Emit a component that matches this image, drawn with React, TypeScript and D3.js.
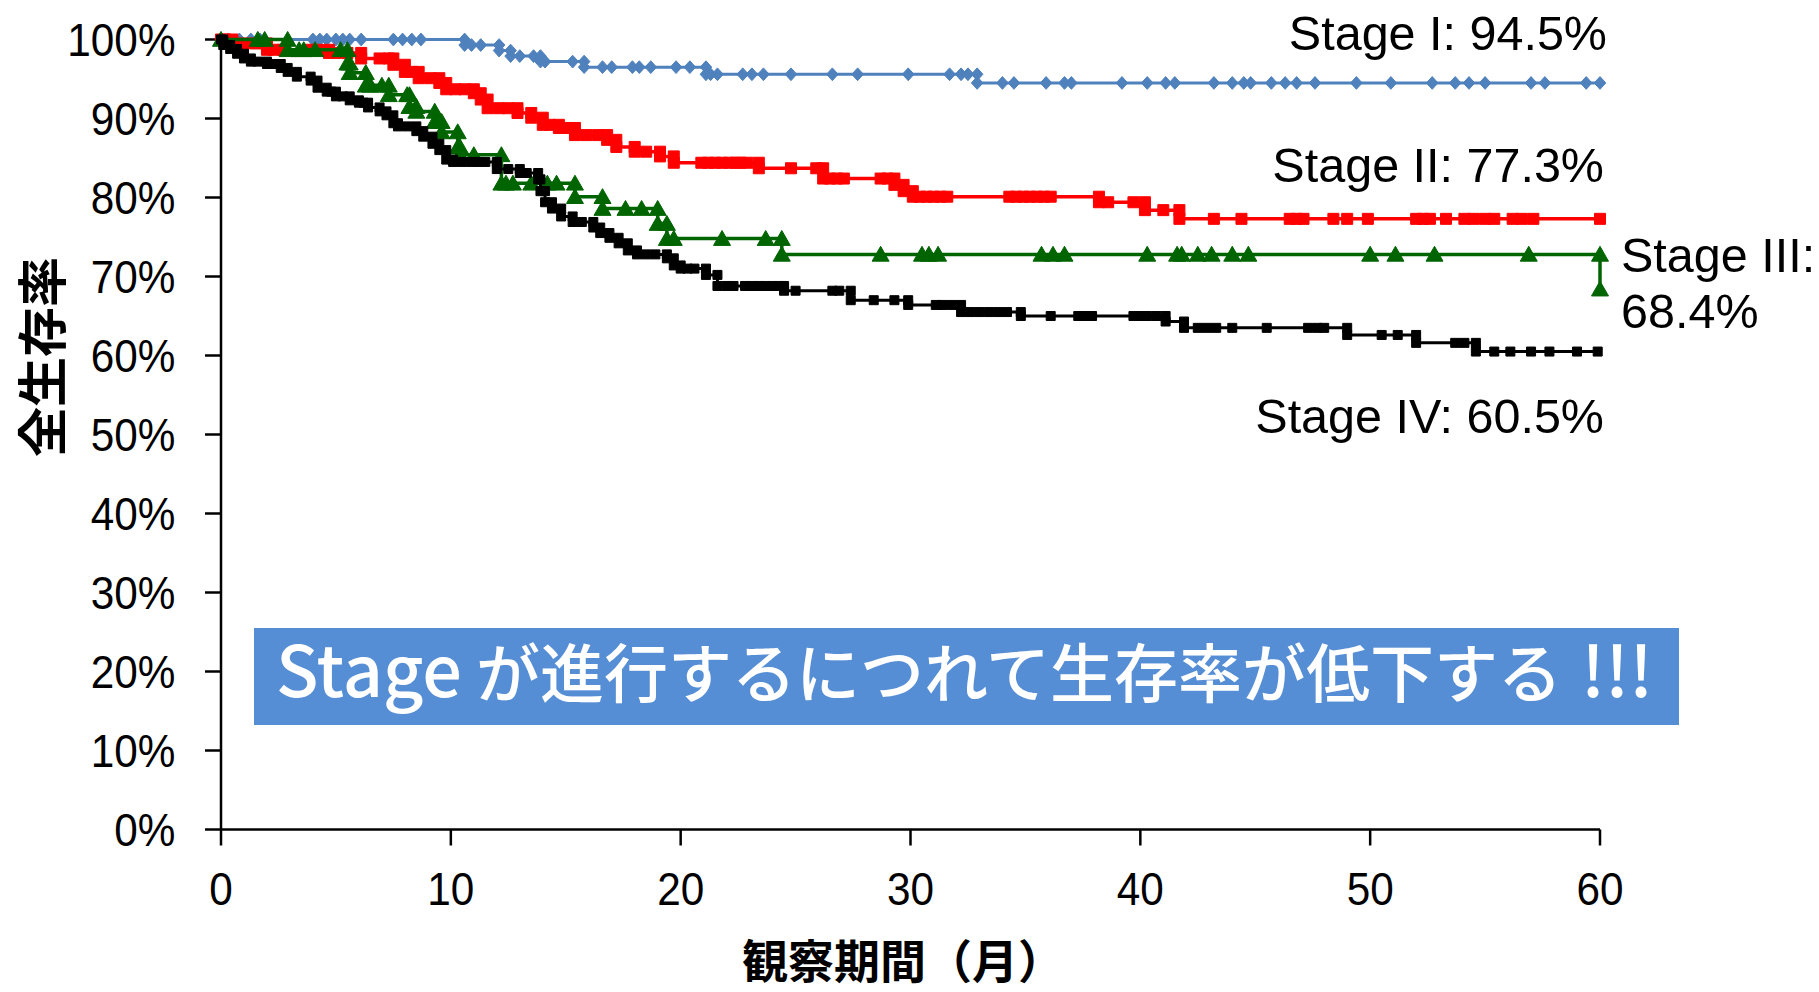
import React, { useEffect } from "react";
import * as d3 from "d3";

const W = 1819;
const H = 992;

// ---- axis ticks ----
const monthTicks = [0, 10, 20, 30, 40, 50, 60];
const percentTicks = [0, 10, 20, 30, 40, 50, 60, 70, 80, 90, 100];

// ---- Stage I (blue): [month, survival % after the event] ----
const stage1Steps: [number, number][] = [
  [10.6, 99.3], [12.1, 98.6], [12.6, 97.9], [13.9, 97.2], [15.8, 96.5], [21.1, 95.6], [32.9, 94.5],
];
const stage1Censor = [
  0.3, 0.8, 1.3, 1.7, 4.0, 4.3, 4.6, 5.0, 5.3, 5.6, 6.1, 7.5, 7.9, 8.3, 8.7, 10.9, 11.3, 13.0, 13.6,
  14.1, 15.3, 16.6, 17.0, 17.9, 18.2, 18.7, 19.8, 20.4, 21.3, 21.6, 22.7, 23.1, 23.6, 24.8, 26.6,
  27.7, 29.9, 31.7, 32.2, 32.5, 34.0, 34.5, 35.9, 36.7, 37.0, 39.2, 40.3, 41.1, 41.5, 43.2, 44.0,
  44.5, 44.8, 45.7, 46.3, 46.8, 47.6, 49.4, 50.9, 52.7, 53.7, 54.3, 55.0, 57.0, 57.6, 59.4, 60.0,
];

// ---- Stage II (red) ----
const stage2Steps: [number, number][] = [
  [0.5, 99.5], [2.0, 98.7], [4.7, 98.3], [6.1, 97.6], [7.5, 96.8], [8.0, 95.9], [8.6, 95.1],
  [9.5, 94.5], [9.8, 93.7], [11.0, 93.2], [11.3, 92.4], [11.6, 91.3], [12.9, 90.7], [13.5, 90.1],
  [14.0, 89.2], [14.7, 88.8], [15.4, 87.9], [16.8, 87.3], [17.2, 86.4], [18.0, 85.8], [19.1, 85.2],
  [19.7, 84.4], [23.4, 83.7], [26.2, 82.4], [29.3, 81.6], [29.7, 80.8], [30.1, 80.1], [38.2, 79.4],
  [40.2, 78.4], [41.7, 77.3],
];
const stage2Censor = [
  0.2, 1.0, 1.5, 2.3, 2.7, 3.8, 4.2, 5.0, 5.5, 6.9, 7.3, 8.3, 9.1, 10.2, 10.6, 12.1, 12.5, 14.3,
  15.0, 15.9, 16.4, 18.5, 20.9, 21.2, 21.5, 21.8, 22.1, 22.4, 22.6, 22.9, 24.8, 25.9, 26.5, 26.8,
  27.1, 28.7, 29.0, 30.4, 30.7, 31.0, 31.3, 31.6, 34.3, 34.6, 34.9, 35.2, 35.5, 35.8, 36.1, 38.6,
  39.7, 41.0, 43.2, 44.4, 46.5, 46.8, 47.1, 48.4, 49.0, 49.9, 52.0, 52.3, 52.6, 53.3, 54.1, 54.5,
  55.0, 55.4, 56.2, 56.6, 57.1, 60.0,
];

// ---- Stage III (green) ----
const stage3Steps: [number, number][] = [
  [2.9, 98.7], [5.5, 97.0], [5.6, 95.8], [6.3, 94.2], [7.3, 93.0], [8.2, 91.5], [8.5, 90.9],
  [9.3, 89.6], [9.6, 88.3], [10.3, 86.4], [10.4, 85.4], [12.2, 81.8], [15.4, 80.1], [16.6, 78.6],
  [19.0, 76.7], [19.4, 74.8], [24.4, 72.8], [60.0, 68.4],
];
const stage3Censor = [
  1.6, 1.9, 3.4, 3.6, 4.1, 5.2, 6.5, 7.0, 8.1, 11.0, 12.4, 12.7, 13.5, 14.2, 14.6, 17.6, 18.3,
  19.7, 21.8, 23.7, 28.7, 30.5, 30.8, 31.2, 35.7, 36.2, 36.7, 40.3, 41.6, 41.8, 42.5, 43.1, 44.0,
  44.7, 50.0, 51.1, 52.8, 56.9,
];

// ---- Stage IV (black) ----
const stage4Steps: [number, number][] = [
  [0.1, 99.3], [0.4, 98.8], [0.7, 98.2], [1.0, 97.6], [1.3, 97.2], [2.0, 96.9], [2.6, 96.4],
  [2.9, 95.9], [3.3, 95.3], [3.9, 94.8], [4.2, 93.9], [4.6, 93.4], [5.0, 92.8], [5.6, 92.3],
  [6.0, 92.0], [6.4, 91.4], [6.9, 90.9], [7.2, 90.4], [7.5, 89.4], [7.7, 89.0], [8.5, 88.4],
  [8.8, 87.7], [9.2, 86.8], [9.5, 86.0], [9.8, 84.8], [10.1, 84.5], [12.0, 83.6], [13.0, 83.1],
  [13.8, 82.3], [13.9, 80.8], [14.1, 79.4], [14.4, 78.6], [14.8, 77.6], [15.3, 76.9], [16.2, 76.2],
  [16.5, 75.5], [16.9, 74.9], [17.3, 74.2], [17.7, 73.3], [18.1, 72.8], [19.4, 72.3], [19.7, 71.4],
  [20.0, 71.0], [21.1, 70.2], [21.6, 68.8], [24.5, 68.2], [27.4, 67.0], [29.9, 66.4], [32.2, 65.5],
  [34.8, 65.0], [41.1, 64.3], [41.9, 63.5], [49.0, 62.6], [52.0, 61.6], [54.6, 60.5],
];
const stage4Censor = [
  1.6, 2.3, 4.8, 5.3, 6.2, 8.1, 10.5, 10.9, 11.2, 11.5, 12.5, 13.3, 15.7, 18.5, 18.9, 20.3, 20.6,
  22.0, 22.3, 22.8, 23.1, 23.4, 23.7, 24.0, 24.3, 25.0, 26.6, 26.9, 28.4, 29.3, 31.1, 31.4, 31.8,
  32.6, 33.0, 33.4, 33.8, 34.2, 36.1, 37.3, 37.6, 37.9, 39.7, 40.0, 40.3, 40.7, 42.5, 42.9, 43.3,
  44.0, 45.5, 47.3, 47.7, 48.0, 50.5, 51.2, 53.7, 54.1, 55.4, 56.1, 57.0, 57.8, 59.0, 59.9,
];

// ---- texts ----
const yAxisTitle = "全生存率";
const xAxisTitle = "観察期間（月）";
const bannerLatin = "Stage";
const bannerMain = "が進行するにつれて生存率が低下する";
const bannerEnd = "!!!";
const label1 = "Stage I: 94.5%";
const label2 = "Stage II: 77.3%";
const label3a = "Stage III:";
const label3b = "68.4%";
const label4 = "Stage IV: 60.5%";

const LATIN = "'Liberation Sans', Arial, sans-serif";
const CJK = "'Noto Sans CJK JP', 'Noto Sans', sans-serif";

const x = d3.scaleLinear().domain([0, 60]).range([221, 1600]);
const y = d3.scaleLinear().domain([0, 100]).range([829.5, 39.5]);

function valueAt(steps: [number, number][], t: number) {
  let v = 100;
  for (const [st, sv] of steps) if (st <= t) v = sv;
  return v;
}

function build(steps: [number, number][], censor: number[]) {
  const pts: [number, number][] = [[0, 100], ...steps];
  const last = pts[pts.length - 1];
  if (last[0] < 60) pts.push([60, last[1]]);
  const markers: [number, number][] = [[0, 100]];
  let prev = 100;
  for (const [t, v] of steps) {
    markers.push([t, prev]);
    markers.push([t, v]);
    prev = v;
  }
  for (const t of censor) markers.push([t, valueAt(steps, t)]);
  return { pts, markers };
}

const line = d3
  .line<[number, number]>()
  .x((d) => x(d[0]))
  .y((d) => y(d[1]))
  .curve(d3.curveStepAfter);

type Shape = "diamond" | "square" | "triangle";

function markerPath(shape: Shape, cx: number, cy: number, s: number) {
  if (shape === "diamond") {
    return `M${cx},${cy - s * 1.1}L${cx + s},${cy}L${cx},${cy + s * 1.1}L${cx - s},${cy}Z`;
  }
  if (shape === "triangle") {
    return `M${cx},${cy - s * 0.95}L${cx + s},${cy + s * 0.8}L${cx - s},${cy + s * 0.8}Z`;
  }
  return `M${cx - s},${cy - s}H${cx + s}V${cy + s}H${cx - s}Z`;
}

const series = [
  { key: "s1", steps: stage1Steps, censor: stage1Censor, color: "#4F81BD", width: 3, shape: "diamond" as Shape, size: 5.8 },
  { key: "s2", steps: stage2Steps, censor: stage2Censor, color: "#FF0000", width: 3.5, shape: "square" as Shape, size: 5.5 },
  { key: "s3", steps: stage3Steps, censor: stage3Censor, color: "#006400", width: 3.5, shape: "triangle" as Shape, size: 8.5 },
  { key: "s4", steps: stage4Steps, censor: stage4Censor, color: "#000000", width: 3, shape: "square" as Shape, size: 4.5 },
];

const TICK_FS = 46;
const TICK_SX = 0.92;

export default function App() {
  useEffect(() => {
    document.body.style.margin = "0";
    document.body.style.overflow = "hidden";
  }, []);

  return (
    <svg
      width={W}
      height={H}
      viewBox={`0 0 ${W} ${H}`}
      style={{ position: "absolute", left: 0, top: 0, background: "#fff" }}
    >
      <rect x={0} y={0} width={W} height={H} fill="#fff" />

      {/* axes */}
      <g stroke="#000" strokeWidth={2.5} fill="none">
        <line x1={x(0)} y1={y(100)} x2={x(0)} y2={y(0)} />
        <line x1={x(0)} y1={y(0)} x2={x(60)} y2={y(0)} />
        {percentTicks.map((p) => (
          <line key={"yt" + p} x1={x(0) - 16} x2={x(0)} y1={y(p)} y2={y(p)} />
        ))}
        {monthTicks.map((m) => (
          <line key={"xt" + m} x1={x(m)} x2={x(m)} y1={y(0)} y2={y(0) + 16} />
        ))}
      </g>

      {/* tick labels */}
      <g fontFamily={LATIN} fontSize={TICK_FS} fill="#000">
        {percentTicks.map((p) => (
          <text
            key={"yl" + p}
            transform={`translate(175.5,${y(p) + 16.5}) scale(${TICK_SX},1)`}
            textAnchor="end"
          >
            {p + "%"}
          </text>
        ))}
        {monthTicks.map((m) => (
          <text
            key={"xl" + m}
            transform={`translate(${x(m)},904.5) scale(${TICK_SX},1)`}
            textAnchor="middle"
          >
            {m}
          </text>
        ))}
      </g>

      {/* axis titles */}
      <text
        x={903}
        y={978}
        textAnchor="middle"
        fontFamily={CJK}
        fontWeight="bold"
        fontSize={46}
        fill="#000"
      >
        {xAxisTitle}
      </text>
      <text
        transform="translate(39,357) rotate(-90)"
        textAnchor="middle"
        dominantBaseline="central"
        fontFamily={CJK}
        fontWeight="bold"
        fontSize={50}
        fill="#000"
      >
        {yAxisTitle}
      </text>

      {/* banner */}
      <rect x={254} y={628} width={1425} height={97} fill="#558ED5" />
      <text y={697} fill="#fff" fontFamily={CJK} fontWeight={500}>
        <tspan x={276} fontSize={70}>{bannerLatin}</tspan>
        <tspan x={476} fontSize={64}>{bannerMain}</tspan>
        <tspan x={1581} fontSize={70}>{bannerEnd}</tspan>
      </text>

      {/* curves */}
      {series.map((s) => {
        const { pts, markers } = build(s.steps, s.censor);
        return (
          <g key={s.key}>
            <path d={line(pts) || ""} fill="none" stroke={s.color} strokeWidth={s.width} />
            <g fill={s.color} stroke={s.color} strokeWidth={1} strokeLinejoin="round">
              {markers.map((m, i) => (
                <path key={i} d={markerPath(s.shape, x(m[0]), y(m[1]), s.size)} />
              ))}
            </g>
          </g>
        );
      })}

      {/* end labels */}
      <g fontFamily={LATIN} fontSize={48.5} fill="#000">
        <text x={1607} y={50} textAnchor="end">{label1}</text>
        <text x={1604} y={182} textAnchor="end">{label2}</text>
        <text x={1621} y={272}>{label3a}</text>
        <text x={1621} y={328}>{label3b}</text>
        <text x={1604} y={433} textAnchor="end">{label4}</text>
      </g>
    </svg>
  );
}
